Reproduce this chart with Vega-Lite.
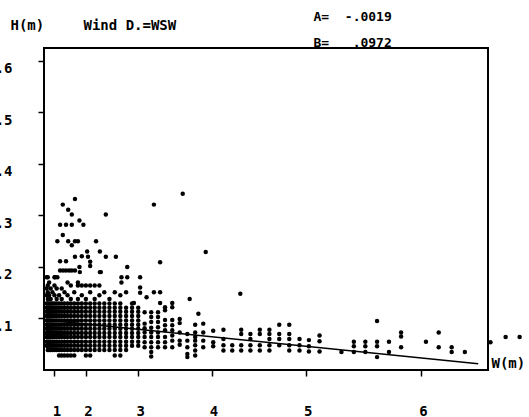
{
"$schema": "https://vega.github.io/schema/vega-lite/v6.json",
"width": 444, "height": 322,
"autosize": {"type": "none"},
"padding": {"left": 44, "top": 48, "right": 41, "bottom": 47},
"background": "white",
"config": {
 "view": {"stroke": "black", "strokeWidth": 2},
 "axis": {"grid": false, "domain": false, "tickColor": "black", "tickWidth": 1.5, "tickSize": 6,
  "labelFont": "DejaVu Sans Mono", "labelFontWeight": "bold", "labelFontSize": 14, "labelColor": "black",
  "titleFont": "DejaVu Sans Mono", "titleFontWeight": "bold", "titleFontSize": 14, "titleColor": "black"}
},
"datasets": {
 "pts": [
{"w":0.5,"h":0.047},{"w":0.5,"h":0.055},{"w":0.5,"h":0.064},{"w":0.5,"h":0.072},{"w":0.5,"h":0.080},{"w":0.5,"h":0.088},{"w":0.5,"h":0.096},{"w":0.5,"h":0.105},{"w":0.5,"h":0.113},{"w":0.5,"h":0.121},{"w":0.5,"h":0.129},{"w":0.5,"h":0.145},{"w":0.5,"h":0.158},{"w":0.5,"h":0.18},
{"w":0.6,"h":0.039},{"w":0.6,"h":0.047},{"w":0.6,"h":0.055},{"w":0.6,"h":0.064},{"w":0.6,"h":0.072},{"w":0.6,"h":0.080},{"w":0.6,"h":0.088},{"w":0.6,"h":0.096},{"w":0.6,"h":0.105},{"w":0.6,"h":0.113},{"w":0.6,"h":0.121},{"w":0.6,"h":0.129},{"w":0.6,"h":0.138},{"w":0.6,"h":0.151},{"w":0.6,"h":0.164},{"w":0.6,"h":0.18},
{"w":0.7,"h":0.039},{"w":0.7,"h":0.047},{"w":0.7,"h":0.055},{"w":0.7,"h":0.064},{"w":0.7,"h":0.072},{"w":0.7,"h":0.080},{"w":0.7,"h":0.088},{"w":0.7,"h":0.096},{"w":0.7,"h":0.105},{"w":0.7,"h":0.113},{"w":0.7,"h":0.121},{"w":0.7,"h":0.129},{"w":0.7,"h":0.145},{"w":0.7,"h":0.17},
{"w":0.8,"h":0.039},{"w":0.8,"h":0.047},{"w":0.8,"h":0.055},{"w":0.8,"h":0.064},{"w":0.8,"h":0.072},{"w":0.8,"h":0.080},{"w":0.8,"h":0.088},{"w":0.8,"h":0.096},{"w":0.8,"h":0.105},{"w":0.8,"h":0.113},{"w":0.8,"h":0.121},{"w":0.8,"h":0.129},{"w":0.8,"h":0.138},{"w":0.8,"h":0.158},
{"w":0.9,"h":0.039},{"w":0.9,"h":0.047},{"w":0.9,"h":0.055},{"w":0.9,"h":0.064},{"w":0.9,"h":0.072},{"w":0.9,"h":0.080},{"w":0.9,"h":0.088},{"w":0.9,"h":0.096},{"w":0.9,"h":0.105},{"w":0.9,"h":0.113},{"w":0.9,"h":0.121},{"w":0.9,"h":0.129},{"w":0.9,"h":0.151},
{"w":1.0,"h":0.039},{"w":1.0,"h":0.047},{"w":1.0,"h":0.055},{"w":1.0,"h":0.064},{"w":1.0,"h":0.072},{"w":1.0,"h":0.080},{"w":1.0,"h":0.088},{"w":1.0,"h":0.096},{"w":1.0,"h":0.105},{"w":1.0,"h":0.113},{"w":1.0,"h":0.121},{"w":1.0,"h":0.129},{"w":1.0,"h":0.145},{"w":1.0,"h":0.164},{"w":1.0,"h":0.18},
{"w":1.1,"h":0.039},{"w":1.1,"h":0.047},{"w":1.1,"h":0.055},{"w":1.1,"h":0.064},{"w":1.1,"h":0.072},{"w":1.1,"h":0.080},{"w":1.1,"h":0.088},{"w":1.1,"h":0.096},{"w":1.1,"h":0.105},{"w":1.1,"h":0.113},{"w":1.1,"h":0.121},{"w":1.1,"h":0.129},{"w":1.1,"h":0.138},{"w":1.1,"h":0.158},
{"w":1.2,"h":0.028},{"w":1.2,"h":0.039},{"w":1.2,"h":0.047},{"w":1.2,"h":0.055},{"w":1.2,"h":0.064},{"w":1.2,"h":0.072},{"w":1.2,"h":0.080},{"w":1.2,"h":0.088},{"w":1.2,"h":0.096},{"w":1.2,"h":0.105},{"w":1.2,"h":0.113},{"w":1.2,"h":0.121},{"w":1.2,"h":0.129},{"w":1.2,"h":0.145},
{"w":1.3,"h":0.028},{"w":1.3,"h":0.039},{"w":1.3,"h":0.047},{"w":1.3,"h":0.055},{"w":1.3,"h":0.064},{"w":1.3,"h":0.072},{"w":1.3,"h":0.080},{"w":1.3,"h":0.088},{"w":1.3,"h":0.096},{"w":1.3,"h":0.105},{"w":1.3,"h":0.113},{"w":1.3,"h":0.121},{"w":1.3,"h":0.129},{"w":1.3,"h":0.138},{"w":1.3,"h":0.158},
{"w":1.4,"h":0.028},{"w":1.4,"h":0.039},{"w":1.4,"h":0.047},{"w":1.4,"h":0.055},{"w":1.4,"h":0.064},{"w":1.4,"h":0.072},{"w":1.4,"h":0.080},{"w":1.4,"h":0.088},{"w":1.4,"h":0.096},{"w":1.4,"h":0.105},{"w":1.4,"h":0.113},{"w":1.4,"h":0.121},{"w":1.4,"h":0.129},{"w":1.4,"h":0.151},
{"w":1.5,"h":0.028},{"w":1.5,"h":0.039},{"w":1.5,"h":0.047},{"w":1.5,"h":0.055},{"w":1.5,"h":0.064},{"w":1.5,"h":0.072},{"w":1.5,"h":0.080},{"w":1.5,"h":0.088},{"w":1.5,"h":0.096},{"w":1.5,"h":0.105},{"w":1.5,"h":0.113},{"w":1.5,"h":0.121},{"w":1.5,"h":0.129},{"w":1.5,"h":0.145},{"w":1.5,"h":0.17},
{"w":1.6,"h":0.028},{"w":1.6,"h":0.039},{"w":1.6,"h":0.047},{"w":1.6,"h":0.055},{"w":1.6,"h":0.064},{"w":1.6,"h":0.072},{"w":1.6,"h":0.080},{"w":1.6,"h":0.088},{"w":1.6,"h":0.096},{"w":1.6,"h":0.105},{"w":1.6,"h":0.113},{"w":1.6,"h":0.121},{"w":1.6,"h":0.129},{"w":1.6,"h":0.138},{"w":1.6,"h":0.164},
{"w":1.7,"h":0.028},{"w":1.7,"h":0.039},{"w":1.7,"h":0.047},{"w":1.7,"h":0.055},{"w":1.7,"h":0.064},{"w":1.7,"h":0.072},{"w":1.7,"h":0.080},{"w":1.7,"h":0.088},{"w":1.7,"h":0.096},{"w":1.7,"h":0.105},{"w":1.7,"h":0.113},{"w":1.7,"h":0.121},{"w":1.7,"h":0.129},{"w":1.7,"h":0.151},
{"w":1.8,"h":0.039},{"w":1.8,"h":0.047},{"w":1.8,"h":0.055},{"w":1.8,"h":0.064},{"w":1.8,"h":0.072},{"w":1.8,"h":0.080},{"w":1.8,"h":0.088},{"w":1.8,"h":0.096},{"w":1.8,"h":0.105},{"w":1.8,"h":0.113},{"w":1.8,"h":0.121},{"w":1.8,"h":0.129},{"w":1.8,"h":0.138},{"w":1.8,"h":0.164},{"w":1.8,"h":0.17},
{"w":1.9,"h":0.039},{"w":1.9,"h":0.047},{"w":1.9,"h":0.055},{"w":1.9,"h":0.064},{"w":1.9,"h":0.072},{"w":1.9,"h":0.080},{"w":1.9,"h":0.088},{"w":1.9,"h":0.096},{"w":1.9,"h":0.105},{"w":1.9,"h":0.113},{"w":1.9,"h":0.121},{"w":1.9,"h":0.129},{"w":1.9,"h":0.145},{"w":1.9,"h":0.164},
{"w":2.0,"h":0.028},{"w":2.0,"h":0.039},{"w":2.0,"h":0.047},{"w":2.0,"h":0.055},{"w":2.0,"h":0.064},{"w":2.0,"h":0.072},{"w":2.0,"h":0.080},{"w":2.0,"h":0.088},{"w":2.0,"h":0.096},{"w":2.0,"h":0.105},{"w":2.0,"h":0.113},{"w":2.0,"h":0.121},{"w":2.0,"h":0.129},{"w":2.0,"h":0.138},{"w":2.0,"h":0.164},
{"w":2.1,"h":0.028},{"w":2.1,"h":0.039},{"w":2.1,"h":0.047},{"w":2.1,"h":0.055},{"w":2.1,"h":0.064},{"w":2.1,"h":0.072},{"w":2.1,"h":0.080},{"w":2.1,"h":0.088},{"w":2.1,"h":0.096},{"w":2.1,"h":0.105},{"w":2.1,"h":0.113},{"w":2.1,"h":0.121},{"w":2.1,"h":0.129},{"w":2.1,"h":0.151},{"w":2.1,"h":0.164},
{"w":2.2,"h":0.039},{"w":2.2,"h":0.047},{"w":2.2,"h":0.055},{"w":2.2,"h":0.064},{"w":2.2,"h":0.072},{"w":2.2,"h":0.080},{"w":2.2,"h":0.088},{"w":2.2,"h":0.096},{"w":2.2,"h":0.105},{"w":2.2,"h":0.113},{"w":2.2,"h":0.121},{"w":2.2,"h":0.129},{"w":2.2,"h":0.138},{"w":2.2,"h":0.164},
{"w":2.3,"h":0.039},{"w":2.3,"h":0.047},{"w":2.3,"h":0.055},{"w":2.3,"h":0.064},{"w":2.3,"h":0.072},{"w":2.3,"h":0.080},{"w":2.3,"h":0.088},{"w":2.3,"h":0.096},{"w":2.3,"h":0.105},{"w":2.3,"h":0.113},{"w":2.3,"h":0.121},{"w":2.3,"h":0.129},{"w":2.3,"h":0.145},{"w":2.3,"h":0.164},
{"w":2.4,"h":0.039},{"w":2.4,"h":0.047},{"w":2.4,"h":0.055},{"w":2.4,"h":0.064},{"w":2.4,"h":0.072},{"w":2.4,"h":0.080},{"w":2.4,"h":0.088},{"w":2.4,"h":0.096},{"w":2.4,"h":0.105},{"w":2.4,"h":0.113},{"w":2.4,"h":0.121},{"w":2.4,"h":0.129},{"w":2.4,"h":0.151},
{"w":2.5,"h":0.039},{"w":2.5,"h":0.047},{"w":2.5,"h":0.055},{"w":2.5,"h":0.064},{"w":2.5,"h":0.072},{"w":2.5,"h":0.080},{"w":2.5,"h":0.088},{"w":2.5,"h":0.096},{"w":2.5,"h":0.105},{"w":2.5,"h":0.113},{"w":2.5,"h":0.121},{"w":2.5,"h":0.129},{"w":2.5,"h":0.138},
{"w":2.6,"h":0.028},{"w":2.6,"h":0.039},{"w":2.6,"h":0.047},{"w":2.6,"h":0.055},{"w":2.6,"h":0.064},{"w":2.6,"h":0.072},{"w":2.6,"h":0.080},{"w":2.6,"h":0.088},{"w":2.6,"h":0.096},{"w":2.6,"h":0.105},{"w":2.6,"h":0.113},{"w":2.6,"h":0.121},{"w":2.6,"h":0.129},{"w":2.6,"h":0.151},
{"w":2.7,"h":0.028},{"w":2.7,"h":0.039},{"w":2.7,"h":0.047},{"w":2.7,"h":0.055},{"w":2.7,"h":0.064},{"w":2.7,"h":0.072},{"w":2.7,"h":0.080},{"w":2.7,"h":0.088},{"w":2.7,"h":0.096},{"w":2.7,"h":0.105},{"w":2.7,"h":0.113},{"w":2.7,"h":0.121},{"w":2.7,"h":0.129},{"w":2.7,"h":0.145},
{"w":2.8,"h":0.039},{"w":2.8,"h":0.047},{"w":2.8,"h":0.055},{"w":2.8,"h":0.064},{"w":2.8,"h":0.072},{"w":2.8,"h":0.080},{"w":2.8,"h":0.088},{"w":2.8,"h":0.096},{"w":2.8,"h":0.105},{"w":2.8,"h":0.113},{"w":2.8,"h":0.121},{"w":2.8,"h":0.151},
{"w":2.9,"h":0.047},{"w":2.9,"h":0.055},{"w":2.9,"h":0.064},{"w":2.9,"h":0.072},{"w":2.9,"h":0.080},{"w":2.9,"h":0.088},{"w":2.9,"h":0.096},{"w":2.9,"h":0.105},{"w":2.9,"h":0.113},{"w":2.9,"h":0.121},{"w":2.9,"h":0.129},
{"w":3.0,"h":0.047},{"w":3.0,"h":0.055},{"w":3.0,"h":0.064},{"w":3.0,"h":0.072},{"w":3.0,"h":0.080},{"w":3.0,"h":0.088},{"w":3.0,"h":0.096},{"w":3.0,"h":0.105},{"w":3.0,"h":0.113},{"w":3.0,"h":0.121},
{"w":3.1,"h":0.044},{"w":3.1,"h":0.054},{"w":3.1,"h":0.064},{"w":3.1,"h":0.073},{"w":3.1,"h":0.081},{"w":3.1,"h":0.090},{"w":3.1,"h":0.112},
{"w":3.2,"h":0.026},{"w":3.2,"h":0.035},{"w":3.2,"h":0.044},{"w":3.2,"h":0.054},{"w":3.2,"h":0.064},{"w":3.2,"h":0.073},{"w":3.2,"h":0.082},{"w":3.2,"h":0.093},{"w":3.2,"h":0.103},{"w":3.2,"h":0.112},
{"w":3.3,"h":0.044},{"w":3.3,"h":0.054},{"w":3.3,"h":0.064},{"w":3.3,"h":0.073},{"w":3.3,"h":0.083},{"w":3.3,"h":0.093},{"w":3.3,"h":0.103},{"w":3.3,"h":0.112},
{"w":3.4,"h":0.044},{"w":3.4,"h":0.054},{"w":3.4,"h":0.064},{"w":3.4,"h":0.077},{"w":3.4,"h":0.087},{"w":3.4,"h":0.097},{"w":3.4,"h":0.116},{"w":3.4,"h":0.122},
{"w":3.5,"h":0.044},{"w":3.5,"h":0.057},{"w":3.5,"h":0.067},{"w":3.5,"h":0.077},{"w":3.5,"h":0.087},{"w":3.5,"h":0.097},{"w":3.5,"h":0.122},{"w":3.5,"h":0.130},
{"w":3.6,"h":0.049},{"w":3.6,"h":0.057},{"w":3.6,"h":0.073},{"w":3.6,"h":0.091},{"w":3.6,"h":0.099},
{"w":3.7,"h":0.025},{"w":3.7,"h":0.031},{"w":3.7,"h":0.044},{"w":3.7,"h":0.057},{"w":3.7,"h":0.070},
{"w":3.8,"h":0.028},{"w":3.8,"h":0.038},{"w":3.8,"h":0.048},{"w":3.8,"h":0.057},{"w":3.8,"h":0.064},{"w":3.8,"h":0.073},{"w":3.8,"h":0.088},
{"w":3.9,"h":0.044},{"w":3.9,"h":0.057},{"w":3.9,"h":0.073},{"w":3.9,"h":0.090},
{"w":4.02,"h":0.046},{"w":4.02,"h":0.054},{"w":4.02,"h":0.076},
{"w":4.14,"h":0.038},{"w":4.14,"h":0.048},{"w":4.14,"h":0.060},{"w":4.14,"h":0.078},
{"w":4.24,"h":0.038},{"w":4.24,"h":0.048},
{"w":4.34,"h":0.038},{"w":4.34,"h":0.048},{"w":4.34,"h":0.070},{"w":4.34,"h":0.078},
{"w":4.44,"h":0.038},{"w":4.44,"h":0.048},{"w":4.44,"h":0.060},{"w":4.44,"h":0.070},
{"w":4.54,"h":0.038},{"w":4.54,"h":0.048},{"w":4.54,"h":0.070},{"w":4.54,"h":0.078},
{"w":4.64,"h":0.038},{"w":4.64,"h":0.048},{"w":4.64,"h":0.060},{"w":4.64,"h":0.070},{"w":4.64,"h":0.078},
{"w":4.74,"h":0.048},{"w":4.74,"h":0.060},{"w":4.74,"h":0.070},{"w":4.74,"h":0.088},
{"w":4.84,"h":0.038},{"w":4.84,"h":0.048},{"w":4.84,"h":0.060},{"w":4.84,"h":0.070},{"w":4.84,"h":0.088},
{"w":4.94,"h":0.038},{"w":4.94,"h":0.048},{"w":4.94,"h":0.060},
{"w":5.03,"h":0.036},{"w":5.03,"h":0.046},{"w":5.03,"h":0.058},
{"w":5.13,"h":0.036},{"w":5.13,"h":0.056},{"w":5.13,"h":0.067},
{"w":5.33,"h":0.035},
{"w":5.44,"h":0.035},{"w":5.44,"h":0.046},{"w":5.44,"h":0.055},
{"w":5.54,"h":0.035},{"w":5.54,"h":0.046},{"w":5.54,"h":0.055},
{"w":5.64,"h":0.025},{"w":5.64,"h":0.046},{"w":5.64,"h":0.055},{"w":5.64,"h":0.095},
{"w":5.74,"h":0.035},{"w":5.74,"h":0.055},
{"w":5.84,"h":0.044},{"w":5.84,"h":0.065},{"w":5.84,"h":0.073},
{"w":6.04,"h":0.055},
{"w":6.14,"h":0.044},{"w":6.14,"h":0.073},
{"w":6.24,"h":0.035},{"w":6.24,"h":0.044},
{"w":6.34,"h":0.035},
{"w":6.53,"h":0.054},{"w":6.64,"h":0.064},{"w":6.74,"h":0.064},
{"w":1.72,"h":0.332},{"w":1.34,"h":0.321},{"w":1.52,"h":0.311},{"w":1.63,"h":0.302},{"w":2.43,"h":0.302},
{"w":1.24,"h":0.282},{"w":1.45,"h":0.282},{"w":1.63,"h":0.282},{"w":1.84,"h":0.29},{"w":1.94,"h":0.282},
{"w":3.24,"h":0.321},{"w":1.34,"h":0.262},{"w":1.13,"h":0.25},{"w":1.52,"h":0.25},{"w":1.72,"h":0.25},
{"w":1.8,"h":0.25},{"w":1.63,"h":0.242},{"w":2.23,"h":0.25},{"w":2.03,"h":0.23},{"w":2.31,"h":0.23},
{"w":1.72,"h":0.22},{"w":1.9,"h":0.221},{"w":2.05,"h":0.22},{"w":2.43,"h":0.22},{"w":2.62,"h":0.22},
{"w":1.24,"h":0.211},{"w":1.45,"h":0.211},{"w":2.1,"h":0.21},{"w":2.1,"h":0.202},{"w":1.84,"h":0.2},
{"w":3.33,"h":0.209},{"w":2.33,"h":0.19},{"w":2.82,"h":0.2},{"w":1.03,"h":0.18},{"w":1.13,"h":0.18},
{"w":1.24,"h":0.193},{"w":1.35,"h":0.193},{"w":1.45,"h":0.193},{"w":1.55,"h":0.193},{"w":1.63,"h":0.193},
{"w":1.72,"h":0.193},{"w":1.85,"h":0.19},{"w":2.31,"h":0.19},{"w":2.72,"h":0.18},{"w":2.72,"h":0.17},
{"w":2.82,"h":0.18},{"w":3.03,"h":0.18},{"w":3.03,"h":0.16},{"w":3.13,"h":0.141},{"w":3.24,"h":0.151},
{"w":3.33,"h":0.151},{"w":3.64,"h":0.342},{"w":3.93,"h":0.229},{"w":4.33,"h":0.148},{"w":3.73,"h":0.138},
{"w":3.84,"h":0.109},{"w":3.33,"h":0.13},{"w":2.93,"h":0.13},{"w":3.03,"h":0.15}
 ],
 "fit": [{"w":0.5,"h":0.097},{"w":6.44,"h":0.012}]
},
"layer": [
 {
  "data": {"name": "pts"},
  "mark": {"type": "circle", "size": 20, "color": "black", "opacity": 1},
  "encoding": {
   "x": {"field": "w", "type": "quantitative",
    "scale": {"type": "pow", "exponent": 2, "domain": [0, 6.512], "nice": false, "zero": true},
    "axis": {"values": [1, 2, 3, 4, 5, 6], "labelPadding": 35, "labelBaseline": "middle", "labelOffset": 2, "labelFlush": false,
     "title": "W(m)", "titleAngle": 0, "titleX": 447, "titleY": -7, "titleAlign": "left", "titleBaseline": "middle"}},
   "y": {"field": "h", "type": "quantitative",
    "scale": {"domain": [0, 0.625], "nice": false},
    "axis": {"values": [0.1, 0.2, 0.3, 0.4, 0.5, 0.6], "labelExpr": "replace(format(datum.value,'.1f'),'0.','.')",
     "labelPadding": 26, "labelOffset": 8, "labelFlush": false,
     "title": "H(m)", "titleAngle": 0, "titleX": -34, "titleY": -23, "titleAlign": "left", "titleBaseline": "middle"}}
  }
 },
 {
  "data": {"name": "fit"},
  "mark": {"type": "line", "color": "black", "strokeWidth": 1.6},
  "encoding": {
   "x": {"field": "w", "type": "quantitative",
    "axis": {"orient": "top", "ticks": false, "labels": false,
     "title": ["A=\u00a0\u00a0-.0019", "B=\u00a0\u00a0\u00a0.0972"], "titleFontSize": 13, "titleAngle": 0,
     "titleX": 269, "titleY": -38, "titleAlign": "left", "titleBaseline": "top", "titleLineHeight": 26}},
   "y": {"field": "h", "type": "quantitative",
    "axis": {"orient": "right", "ticks": false, "labels": false,
     "title": "Wind D.=WSW", "titleAngle": 0, "titleX": -405, "titleY": -23, "titleAlign": "left", "titleBaseline": "middle"}}
  }
 }
],
"resolve": {"axis": {"x": "independent", "y": "independent"}}
}
